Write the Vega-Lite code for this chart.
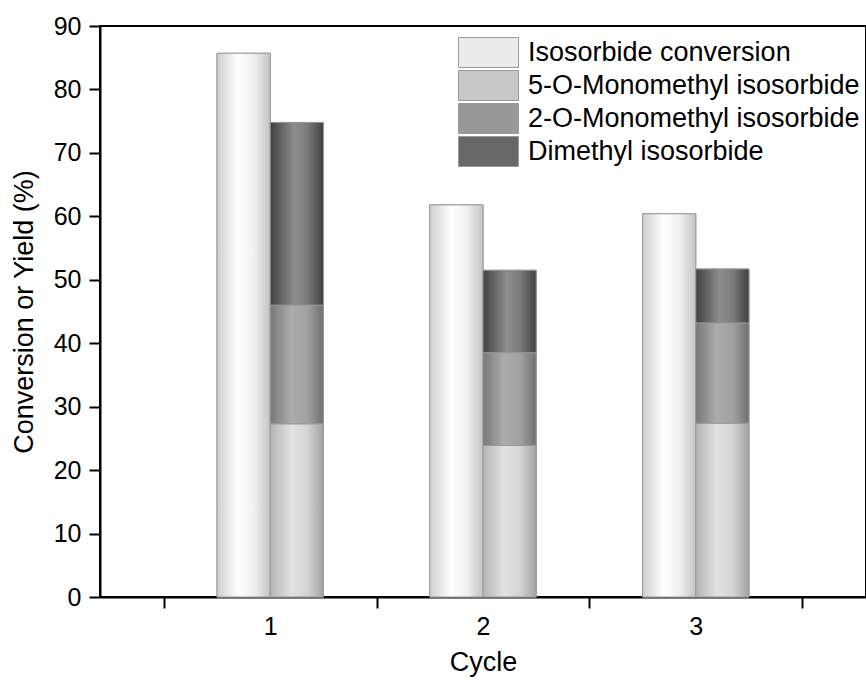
{
  "$schema": "https://vega.github.io/schema/vega-lite/v6.json",
  "width": 766,
  "height": 571,
  "autosize": "none",
  "padding": {"left": 100, "top": 26, "right": 0, "bottom": 83},
  "background": "white",
  "config": {
    "font": "Liberation Sans",
    "view": {"stroke": "black", "strokeWidth": 2},
    "axis": {"grid": false, "domainColor": "black", "domainWidth": 2, "tickColor": "black", "tickWidth": 2, "labelFont": "Liberation Sans", "titleFont": "Liberation Sans", "labelFontSize": 25, "titleFontSize": 27, "labelColor": "black", "titleColor": "black", "titleFontWeight": "normal"}
  },
  "data": {
    "values": [
      {"cycle": "1", "grp": "a", "series": "Isosorbide conversion", "ord": 0, "value": 85.7},
      {"cycle": "1", "grp": "b", "series": "5-O-Monomethyl isosorbide", "ord": 1, "value": 27.3},
      {"cycle": "1", "grp": "b", "series": "2-O-Monomethyl isosorbide", "ord": 2, "value": 18.7},
      {"cycle": "1", "grp": "b", "series": "Dimethyl isosorbide", "ord": 3, "value": 28.8},
      {"cycle": "2", "grp": "a", "series": "Isosorbide conversion", "ord": 0, "value": 61.8},
      {"cycle": "2", "grp": "b", "series": "5-O-Monomethyl isosorbide", "ord": 1, "value": 23.9},
      {"cycle": "2", "grp": "b", "series": "2-O-Monomethyl isosorbide", "ord": 2, "value": 14.6},
      {"cycle": "2", "grp": "b", "series": "Dimethyl isosorbide", "ord": 3, "value": 13.0},
      {"cycle": "3", "grp": "a", "series": "Isosorbide conversion", "ord": 0, "value": 60.4},
      {"cycle": "3", "grp": "b", "series": "5-O-Monomethyl isosorbide", "ord": 1, "value": 27.4},
      {"cycle": "3", "grp": "b", "series": "2-O-Monomethyl isosorbide", "ord": 2, "value": 15.8},
      {"cycle": "3", "grp": "b", "series": "Dimethyl isosorbide", "ord": 3, "value": 8.5}
    ]
  },
  "transform": [
    {"stack": "value", "groupby": ["cycle", "grp"], "sort": [{"field": "ord", "order": "ascending"}], "as": ["y0", "y1"]}
  ],
  "encoding": {
    "x": {
      "field": "cycle", "type": "nominal", "title": "Cycle",
      "scale": {"paddingInner": 0, "paddingOuter": 0.3},
      "axis": {"labelAngle": 0, "tickBand": "extent", "tickSize": 11, "labelPadding": 6, "titlePadding": 10, "labelFontSize": 25, "titleFontSize": 27}
    },
    "xOffset": {"field": "grp", "type": "nominal", "scale": {"paddingInner": 0, "paddingOuter": 1}},
    "y": {
      "field": "y0", "type": "quantitative",
      "title": "Conversion or Yield (%)",
      "scale": {"domain": [0, 90], "nice": false},
      "axis": {"values": [0, 10, 20, 30, 40, 50, 60, 70, 80, 90], "tickSize": 11, "labelPadding": 8, "titlePadding": 15, "labelFontSize": 25, "titleFontSize": 27}
    },
    "y2": {"field": "y1"}
  },
  "layer": [
    {
      "mark": {"type": "bar", "stroke": "#9a9a9a", "strokeWidth": 1},
      "encoding": {
        "fill": {
          "field": "series", "type": "nominal",
          "scale": {
            "domain": ["Isosorbide conversion", "5-O-Monomethyl isosorbide", "2-O-Monomethyl isosorbide", "Dimethyl isosorbide"],
            "range": ["#ebebeb", "#c8c8c8", "#989898", "#686868"]
          },
          "legend": {
            "title": null, "orient": "none", "legendX": 373, "legendY": 11,
            "symbolType": "M-2,-1H2V1H-2Z", "symbolSize": 900, "symbolStrokeColor": "#9a9a9a", "symbolStrokeWidth": 1,
            "labelFontSize": 27, "labelFont": "Liberation Sans", "labelColor": "black", "labelLimit": 500, "rowPadding": -2, "labelOffset": 24,
            "symbolOpacity": 1
          }
        }
      }
    },
    {
      "transform": [{"filter": "datum.ord == 0"}],
      "mark": {"type": "bar", "stroke": "#9a9a9a", "strokeWidth": 1, "fill": {"gradient": "linear", "x1": 0, "y1": 0, "x2": 1, "y2": 0, "stops": [{"offset": 0, "color": "#cfcfcf"}, {"offset": 0.4, "color": "#ffffff"}, {"offset": 0.7, "color": "#f0f0f0"}, {"offset": 1, "color": "#c4c4c4"}]}}
    },
    {
      "transform": [{"filter": "datum.ord == 1"}],
      "mark": {"type": "bar", "stroke": "#9a9a9a", "strokeWidth": 1, "fill": {"gradient": "linear", "x1": 0, "y1": 0, "x2": 1, "y2": 0, "stops": [{"offset": 0, "color": "#b4b4b4"}, {"offset": 0.4, "color": "#e2e2e2"}, {"offset": 0.7, "color": "#d4d4d4"}, {"offset": 1, "color": "#a2a2a2"}]}}
    },
    {
      "transform": [{"filter": "datum.ord == 2"}],
      "mark": {"type": "bar", "stroke": "#9a9a9a", "strokeWidth": 1, "fill": {"gradient": "linear", "x1": 0, "y1": 0, "x2": 1, "y2": 0, "stops": [{"offset": 0, "color": "#787878"}, {"offset": 0.4, "color": "#acacac"}, {"offset": 0.7, "color": "#a0a0a0"}, {"offset": 1, "color": "#707070"}]}}
    },
    {
      "transform": [{"filter": "datum.ord == 3"}],
      "mark": {"type": "bar", "stroke": "#9a9a9a", "strokeWidth": 1, "fill": {"gradient": "linear", "x1": 0, "y1": 0, "x2": 1, "y2": 0, "stops": [{"offset": 0, "color": "#404040"}, {"offset": 0.45, "color": "#8e8e8e"}, {"offset": 0.7, "color": "#7a7a7a"}, {"offset": 1, "color": "#404040"}]}}
    }
  ]
}
